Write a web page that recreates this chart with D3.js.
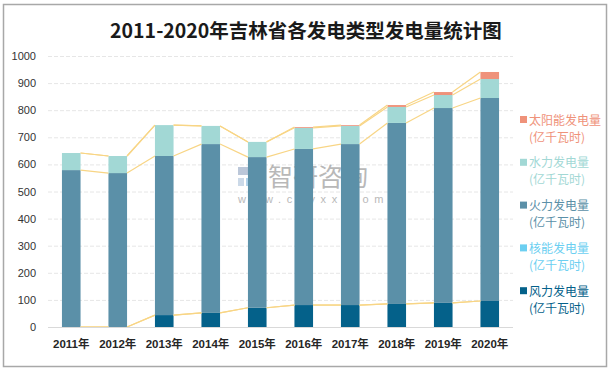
<!DOCTYPE html>
<html>
<head>
<meta charset="utf-8">
<script src="https://cdn.jsdelivr.net/npm/d3@7"></script>
<style>
    body { margin: 0; background: #fff; }
    #chart-area { width: 612px; height: 371px; }
    text { font-family: "Liberation Sans", "Noto Sans CJK SC", sans-serif; }
</style>
</head>
<body>
<div id="chart-area"></div>
<script>
// data (亿千瓦时)
const years = ["2011年", "2012年", "2013年", "2014年", "2015年", "2016年", "2017年", "2018年", "2019年", "2020年"];
const wind = [0, 0, 44, 52, 71, 81, 81, 85, 89, 96];
const nuclear = [0, 0, 0, 0, 0, 0, 0, 0, 0, 0];
const thermal = [579, 568, 587, 623, 556, 576, 594, 668, 719, 749];
const hydro = [63, 63, 114, 67, 56, 78, 67, 59, 48, 70];
const solar = [0, 0, 0, 0, 0, 3, 3, 7, 11, 26];
const yTicks = [0, 100, 200, 300, 400, 500, 600, 700, 800, 900, 1000];

const seriesInfo = [
    {key: "wind", name: "风力发电量", color: "#04618a"},
    {key: "nuclear", name: "核能发电量", color: "#6ccff1"},
    {key: "thermal", name: "火力发电量", color: "#5b90a8"},
    {key: "hydro", name: "水力发电量", color: "#a2d8d5"},
    {key: "solar", name: "太阳能发电量", color: "#ef927a"}
];

class StackVis {
    constructor(parentElement) {
        this.parentElement = parentElement;
        this.data = years.map((y, i) => ({
            year: y, wind: wind[i], nuclear: nuclear[i], thermal: thermal[i], hydro: hydro[i], solar: solar[i]
        }));
        this.initVis();
    }

    initVis() {
        let vis = this;
        vis.width = 612;
        vis.height = 371;

        vis.svg = d3.select("#" + vis.parentElement).append("svg")
            .attr("width", vis.width)
            .attr("height", vis.height);

        // outer frame
        vis.svg.append("rect")
            .attr("x", 3.5).attr("y", 4.5)
            .attr("width", 603).attr("height", 362)
            .attr("fill", "none")
            .attr("stroke", "#a8a8a8")
            .attr("stroke-width", 1.5);

        vis.svg.append("text")
            .attr("x", 306).attr("y", 38)
            .attr("text-anchor", "middle")
            .style("font-family", "'Noto Sans CJK SC', sans-serif")
            .style("font-size", "19.5px")
            .style("font-weight", "bold")
            .attr("fill", "#1a1a1a")
            .text("2011-2020年吉林省各发电类型发电量统计图");

        vis.x = d3.scaleBand()
            .domain(years)
            .range([48, 513])
            .paddingInner(0.6)
            .paddingOuter(0.3);

        vis.y = d3.scaleLinear()
            .domain([0, 1000])
            .range([327, 56]);

        // grid
        vis.svg.append("g")
            .selectAll("line")
            .data(yTicks.slice(1))
            .enter().append("line")
            .attr("x1", 48).attr("x2", 513)
            .attr("y1", d => vis.y(d) + 0.5).attr("y2", d => vis.y(d) + 0.5)
            .attr("stroke", "#e6e6e6")
            .attr("stroke-dasharray", "4,2");

        // y axis
        let yAxis = d3.axisLeft(vis.y).tickValues(yTicks).tickFormat(d3.format("d")).tickSize(0).tickPadding(0);
        vis.svg.append("g")
            .attr("transform", "translate(36,0)")
            .call(yAxis)
            .call(g => g.select(".domain").remove())
            .selectAll("text")
            .style("font-size", "11px")
            .attr("fill", "#333");

        // watermark
        let wm = vis.svg.append("g").attr("opacity", 0.6);
        wm.append("rect").attr("x", 238).attr("y", 167).attr("width", 10).attr("height", 8).attr("fill", "#8fa3c0");
        wm.append("rect").attr("x", 250).attr("y", 167).attr("width", 11).attr("height", 8).attr("fill", "#9fb3cf");
        wm.append("rect").attr("x", 238).attr("y", 178).attr("width", 6).attr("height", 8).attr("fill", "#a9c0da");
        wm.append("rect").attr("x", 246).attr("y", 178).attr("width", 15).attr("height", 8).attr("fill", "#7fb7de");
        wm.append("text")
            .attr("x", 268).attr("y", 186)
            .style("font-family", "'Noto Sans CJK SC', sans-serif")
            .style("font-size", "25px")
            .attr("fill", "#8a8a8a")
            .text("智研咨询");
        wm.append("text")
            .attr("x", 238).attr("y", 203)
            .style("font-size", "11px")
            .style("letter-spacing", "5.6px")
            .attr("fill", "#8a8a8a")
            .text("www.chyxx.com");

        vis.stack = d3.stack().keys(seriesInfo.map(d => d.key));
        vis.stacked = vis.stack(vis.data);

        vis.updateVis();
    }

    updateVis() {
        let vis = this;
        let bw = vis.x.bandwidth();

        // bars
        vis.svg.append("g").selectAll("g")
            .data(vis.stacked)
            .enter().append("g")
            .attr("fill", (d, i) => seriesInfo[i].color)
            .selectAll("rect")
            .data(d => d)
            .enter().append("rect")
            .attr("x", d => vis.x(d.data.year))
            .attr("y", d => vis.y(d[1]))
            .attr("width", bw)
            .attr("height", d => vis.y(d[0]) - vis.y(d[1]));

        // series lines between bars
        let segs = [];
        vis.stacked.forEach(s => {
            for (let i = 0; i < s.length - 1; i++) {
                segs.push({
                    x1: vis.x(s[i].data.year) + bw, y1: vis.y(s[i][1]),
                    x2: vis.x(s[i + 1].data.year), y2: vis.y(s[i + 1][1])
                });
            }
        });
        vis.svg.append("g").selectAll("line")
            .data(segs)
            .enter().append("line")
            .attr("x1", d => d.x1).attr("y1", d => d.y1)
            .attr("x2", d => d.x2).attr("y2", d => d.y2)
            .attr("stroke", "#f8d585")
            .attr("stroke-width", 1.2);

        // baseline
        vis.svg.append("line")
            .attr("x1", 48).attr("x2", 513)
            .attr("y1", vis.y(0) + 0.5).attr("y2", vis.y(0) + 0.5)
            .attr("stroke", "#d9d9d9")
            .attr("stroke-width", 1.2);

        // x labels
        let xAxis = d3.axisBottom(vis.x).tickSize(0).tickPadding(0);
        vis.svg.append("g")
            .attr("transform", "translate(0,340)")
            .call(xAxis)
            .call(g => g.select(".domain").remove())
            .selectAll("text")
            .style("font-size", "11.5px")
            .style("font-weight", "bold")
            .attr("fill", "#262626");

        // legend, top item is solar
        let legend = vis.svg.append("g")
            .selectAll("g")
            .data(seriesInfo.slice().reverse())
            .enter().append("g")
            .attr("transform", (d, i) => `translate(520, ${120 + i * 42.8})`);

        legend.append("rect")
            .attr("x", 0).attr("y", -4)
            .attr("width", 7).attr("height", 7)
            .attr("fill", d => d.color);

        legend.append("text")
            .attr("x", 9).attr("y", 4.5)
            .style("font-family", "'Noto Sans CJK SC', sans-serif")
            .style("font-size", "12px")
            .attr("fill", d => d.color)
            .text(d => d.name);

        legend.append("text")
            .attr("x", 9).attr("y", 21.5)
            .style("font-family", "'Noto Sans CJK SC', sans-serif")
            .style("font-size", "12px")
            .attr("fill", d => d.color)
            .text("(亿千瓦时)");
    }
}

new StackVis("chart-area");
</script>
</body>
</html>
